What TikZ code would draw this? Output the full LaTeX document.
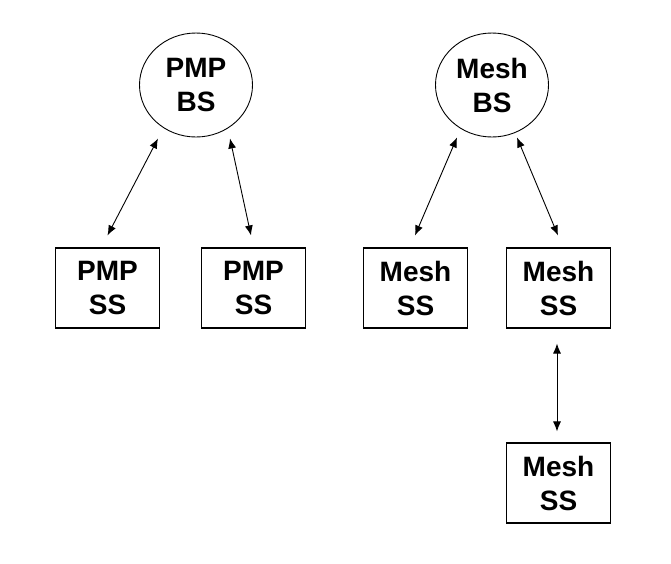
\documentclass[tikz,border=0pt]{standalone}
\usepackage{fontspec}
\setmainfont{Liberation Sans}
\usetikzlibrary{shapes.geometric,arrows.meta}
\tikzset{
  bsnode/.style={ellipse,draw,line width=0.9pt,minimum width=113pt,minimum height=104pt,inner sep=0pt,align=center,font=\fontsize{28}{34}\selectfont\bfseries},
  ssnode/.style={rectangle,draw,line width=1.1pt,minimum width=104pt,minimum height=80pt,inner sep=0pt,align=center,font=\fontsize{28}{34}\selectfont\bfseries},
  link/.style={{Latex[length=10pt,width=8pt]}-{Latex[length=10pt,width=8pt]},line width=0.9pt}
}
\begin{document}
\begin{tikzpicture}[x=1pt,y=-1pt]
\useasboundingbox (0,0) rectangle (671,563);
\node[bsnode] (pbs) at (196,85) {PMP\\BS};
\node[bsnode] (mbs) at (492,85) {Mesh\\BS};
\node[ssnode] (pss1) at (107.5,288) {PMP\\SS};
\node[ssnode] (pss2) at (253.5,288) {PMP\\SS};
\node[ssnode] (mss1) at (415.5,288) {Mesh\\SS};
\node[ssnode] (mss2) at (558.5,288) {Mesh\\SS};
\node[ssnode] (mss3) at (558.5,483) {Mesh\\SS};
\draw[link] ([xshift=-38pt,yshift=-1pt]pbs.south) -- ([yshift=12pt]pss1.north);
\draw[link] ([xshift=34pt,yshift=-1pt]pbs.south) -- ([xshift=-2.5pt,yshift=12pt]pss2.north);
\draw[link] ([xshift=-35pt]mbs.south) -- ([xshift=-0.5pt,yshift=12pt]mss1.north);
\draw[link] ([xshift=25pt]mbs.south) -- ([xshift=-0.5pt,yshift=12pt]mss2.north);
\draw[link] ([xshift=-1.5pt,yshift=-15pt]mss2.south) -- ([xshift=-1.5pt,yshift=11pt]mss3.north);
\end{tikzpicture}
\end{document}
